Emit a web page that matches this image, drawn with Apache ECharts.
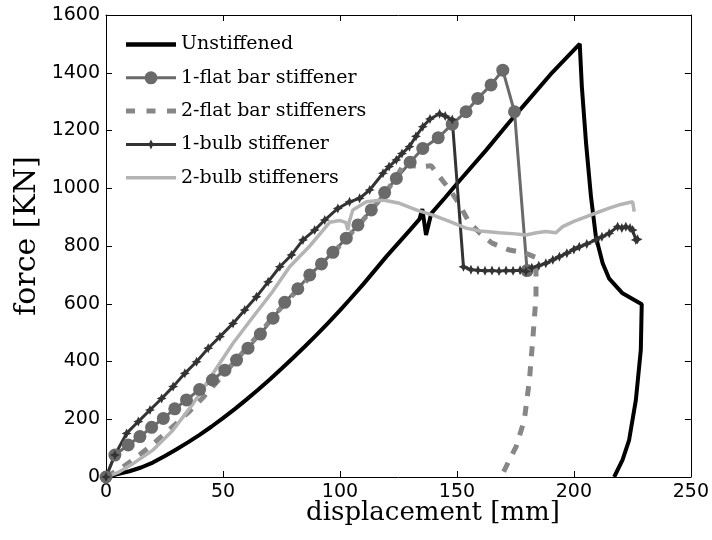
<!DOCTYPE html>
<html><head><meta charset="utf-8">
<script src="https://cdn.jsdelivr.net/npm/echarts@6/dist/echarts.min.js"></script>
<style>html,body{margin:0;padding:0;background:#fff}#c{width:712px;height:540px}</style>
</head><body><div id="c"></div><script>
// ---- data (displacement [mm], force [KN]) ----
const seriesNames = ['Unstiffened', '1-flat bar stiffener', '2-flat bar stiffeners', '1-bulb stiffener', '2-bulb stiffeners'];
const xRange = [0, 250, 50];
const yRange = [0, 1600, 200];
const unstiffened = [[0,0],[5,10],[10,20],[15,33],[20,50],[25,72],[30,95],[35,120],[40,146],[45,174],[50,204],[55,235],[60,268],[65,302],[70,338],[75,375],[80,413],[85,452],[90,492],[95,534],[100,577],[104,613],[110,668],[120,765],[130,856],[134,893],[135.2,928],[136.8,838],[139,912],[145,968],[151,1025],[162.5,1132],[172,1225],[180,1300],[190,1394],[202.5,1500],[203.4,1352],[205.2,1156],[207.3,971],[209.4,832],[212.3,740],[215,688],[220.8,636],[229,598],[228.6,440],[226.5,267],[223.6,128],[220.8,59],[217.2,0]];
const flatBar1 = [[0,0],[3.8,76],[9.5,111],[14.5,140],[19.5,172],[24.5,203],[29.4,236],[34.4,267],[40,303],[45.5,336],[50.8,370],[55.8,405],[60.7,446],[66,495],[71.4,550],[76.4,605],[82,652],[87.1,700],[92.1,738],[97,778],[102.7,827],[107.7,873],[113.4,925],[119.1,985],[124.1,1034],[130,1090],[135.4,1138],[142,1175],[148,1222],[153.9,1265],[158.9,1311],[164.6,1358],[169.6,1409],[174.6,1265],[180,715]];
const flatBar2 = [[0,0],[6,28],[12,62],[18,100],[24,142],[30,185],[36,230],[42,280],[48,335],[54,390],[60,445],[66,500],[72,560],[78,615],[84,665],[90,718],[96,765],[102,820],[108,872],[114,930],[120,990],[125,1050],[128,1095],[131,1078],[135,1075],[139,1078],[144,1025],[147,995],[151,945],[155,885],[160,843],[165,810],[172,787],[179.5,775],[183.8,760],[183.8,624],[182.4,474],[181,336],[178.8,197],[175.3,105],[172.4,59],[168.9,0]];
const bulb1 = [[0,0],[3.8,76],[8.8,151],[13.8,192],[18.8,232],[23.8,272],[28.7,313],[33.7,359],[38.7,399],[43.7,446],[48.7,486],[54.3,532],[59.3,578],[64.3,624],[69.3,676],[74.3,728],[79.3,769],[84.2,821],[89.2,855],[93.5,890],[99.1,930],[104.1,953],[108.4,965],[112.7,994],[118.4,1052],[121,1075],[124.1,1098],[126.5,1120],[129.7,1144],[132.5,1180],[135.4,1213],[138.5,1240],[142.6,1258],[145,1250],[148,1238],[152.8,728],[156,718],[159,716],[162,714],[165,715],[168,713],[171,715],[174,714],[177,716],[179.5,712],[182,725],[185,732],[188,740],[191,752],[193.8,763],[197,775],[200,788],[202.3,797],[205.5,807],[209.4,821],[212,832],[215.1,844],[218.7,867],[220.5,862],[222.2,867],[224,862],[225.1,855],[226.5,821],[227.2,823]];
const bulb2 = [[0,0],[5,15],[11.7,47],[20.2,94],[28.7,163],[37.3,255],[45.8,359],[54.3,463],[62.9,555],[71,640],[78.5,728],[87.1,800],[95.6,882],[100,888],[102.5,882],[103.4,855],[104,885],[105.5,925],[111.3,953],[118.4,959],[125.5,948],[132.6,925],[139.7,907],[146.8,885],[153.9,862],[160,852],[168.2,846],[175,842],[179.5,838],[184,846],[188,850],[192.3,846],[195.2,867],[200,885],[205.1,901],[210,916],[215.1,931],[220,944],[225.1,953],[225.8,919]];

const chart = echarts.init(document.getElementById('c'), null, {renderer: 'canvas'});
const tickFont = {fontFamily: 'DejaVu Sans', fontSize: 19, color: '#000', formatter: v => String(v)};
const star = 'path://M0,-5L1.6,-1.6L5,0L1.6,1.6L0,5L-1.6,1.6L-5,0L-1.6,-1.6Z';
// legend icon shapes (50x14 box, anchored by two degenerate corner segments)
const box = 'M0,0L0.01,0ZM0,14L0.01,14Z';
const legendIcons = [
  'path://' + box + 'M0,4.75L50,4.75L50,9.25L0,9.25Z',
  'path://' + box + 'M0,5.5L50,5.5L50,8.5L0,8.5ZM18.5,7A6.5,6.5 0 0,1 31.5,7A6.5,6.5 0 0,1 18.5,7Z',
  'path://' + box + 'M0,4.5L9,4.5L9,9.5L0,9.5ZM20.5,4.5L29.5,4.5L29.5,9.5L20.5,9.5ZM41,4.5L50,4.5L50,9.5L41,9.5Z',
  'path://' + box + 'M0,5.5L50,5.5L50,8.5L0,8.5ZM25,2L26.6,5.4L30,7L26.6,8.6L25,12L23.4,8.6L20,7L23.4,5.4Z',
  'path://' + box + 'M0,5.25L50,5.25L50,8.75L0,8.75Z'
];
function baseAxis(pos, showLabel, r) {
  return {type: 'value', position: pos, min: r[0], max: r[1], interval: r[2],
    axisLine: {show: true, onZero: false, lineStyle: {color: '#000', width: 1}},
    axisTick: {show: true, inside: true, length: 6, lineStyle: {color: '#000'}},
    axisLabel: Object.assign({show: showLabel, margin: 6}, tickFont),
    splitLine: {show: false}};
}
const styles = [
  {data: unstiffened, color: '#000000', width: 4, type: 'solid', symbol: 'none', size: 0},
  {data: flatBar1, color: '#6a6a6a', width: 3, type: 'solid', symbol: 'circle', size: 13},
  {data: flatBar2, color: '#878787', width: 5, type: [10, 10], symbol: 'none', size: 0},
  {data: bulb1, color: '#333333', width: 3, type: 'solid', symbol: star, size: 10},
  {data: bulb2, color: '#b4b4b4', width: 3.5, type: 'solid', symbol: 'none', size: 0}
];
const series = styles.map((s, i) => ({
  name: seriesNames[i], type: 'line', data: s.data, xAxisIndex: 0, yAxisIndex: 0,
  symbol: s.symbol, symbolSize: s.size, showSymbol: s.symbol !== 'none', showAllSymbol: true,
  lineStyle: {color: s.color, width: s.width, type: s.type},
  itemStyle: {color: s.color, borderWidth: 0},
  emphasis: {disabled: true}, animation: false, clip: true
}));
const legendData = seriesNames.map((n, i) => ({name: n, icon: legendIcons[i]}));
chart.setOption({
  backgroundColor: '#fff',
  animation: false,
  grid: {left: 106, right: 20, top: 15, bottom: 63, containLabel: false},
  xAxis: [baseAxis('bottom', true, xRange), baseAxis('top', false, xRange)],
  yAxis: [baseAxis('left', true, yRange), baseAxis('right', false, yRange)],
  legend: {
    orient: 'vertical', left: 126, top: 35, padding: 0,
    itemWidth: 50, itemHeight: 14, itemGap: 14.3,
    data: legendData,
    textStyle: {fontFamily: 'DejaVu Serif', fontSize: 19, color: '#000', lineHeight: 14},
    selectedMode: false
  },
  graphic: [
    {type: 'text', x: 433, y: 513, style: {text: 'displacement [mm]', font: '26px "DejaVu Serif"', fill: '#000', align: 'center', verticalAlign: 'middle'}},
    {type: 'text', x: 27, y: 236, rotation: Math.PI / 2, style: {text: 'force [KN]', font: '30px "DejaVu Serif"', fill: '#000', align: 'center', verticalAlign: 'middle'}}
  ],
  series: series
});
</script></body></html>
